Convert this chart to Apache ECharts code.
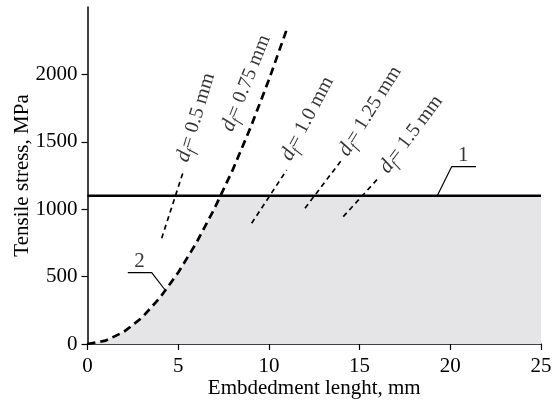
<!DOCTYPE html>
<html>
<head>
<meta charset="utf-8">
<script src="https://cdn.jsdelivr.net/npm/echarts@6/dist/echarts.min.js"></script>
<style>
html,body{margin:0;padding:0;background:#fff;}
#chart{width:553px;height:401px;}
</style>
</head>
<body>
<div id="chart"></div>
<script>
// ---- data ----
var xTicks = [0, 5, 10, 15, 20, 25];
var yTicks = [0, 500, 1000, 1500, 2000];
var limitStress = [[0, 1100], [25, 1100]];                 // line 1
var curve075 = [[0,0],[1,25],[2,90],[3,195],[4,345],[5,530],[6,750],[7,1005],[8,1290],[9,1610],[10,1960],[11,2340]]; // line 2
var shadeBoundary = [[0,0],[1,25],[2,90],[3,195],[4,345],[5,530],[6,750],[7,1005],[7.3,1100],[25,1100]];
var seg05  = [[4.09, 785], [5.28, 1279]];
var seg10  = [[9.05, 896], [10.98, 1291]];
var seg125 = [[11.99, 1007], [14.01, 1365]];
var seg15  = [[14.10, 945], [16.03, 1230]];
var leader1 = [[19.28, 1100], [20.08, 1316], [21.42, 1316]];
var leader2 = [[2.22, 530], [3.54, 530], [4.31, 395]];
var labelNames = ['0.5', '0.75', '1.0', '1.25', '1.5'];
var labelPos = [[5.98, 1680], [8.75, 1935], [12.12, 1672], [15.58, 1728], [17.84, 1555]];
var labelAngle = [73, 68, 62, 58, 53];
var markerText = ['1', '2'];
var markerPos = [[20.72, 1402], [2.86, 612]];

var FONT = 'Liberation Serif';
var chart = echarts.init(document.getElementById('chart'), null, {renderer: 'canvas'});

function lineSeries(data, width, type, z) {
  return {type: 'line', data: data, symbol: 'none', silent: true, z: z || 3,
    lineStyle: {color: '#000', width: width, type: type}};
}

var series = [
  {type: 'line', data: shadeBoundary, symbol: 'none', silent: true, z: 1,
   lineStyle: {width: 0, opacity: 0}, areaStyle: {color: '#e5e5e7', opacity: 1}},
  lineSeries(limitStress, 2.6, 'solid', 4),
  lineSeries(curve075, 2.7, [8, 5], 4),
  lineSeries(seg05, 1.7, [5, 4]),
  lineSeries(seg10, 1.7, [5, 4]),
  lineSeries(seg125, 1.7, [5, 4]),
  lineSeries(seg15, 1.7, [5, 4]),
  lineSeries(leader1, 1.2, 'solid'),
  lineSeries(leader2, 1.2, 'solid')
];

labelNames.forEach(function (n, i) {
  series.push({
    type: 'scatter', symbolSize: 0, silent: true, z: 5,
    data: [labelPos[i]],
    label: {
      show: true, position: 'inside', rotate: labelAngle[i],
      align: 'center', verticalAlign: 'middle',
      formatter: '{i|d}{s|f}{t|= ' + n + ' mm}',
      rich: {
        i: {fontFamily: FONT, fontStyle: 'italic', fontSize: 21, color: '#000', lineHeight: 26},
        s: {fontFamily: FONT, fontStyle: 'italic', fontSize: 14, color: '#000', lineHeight: 12, verticalAlign: 'bottom'},
        t: {fontFamily: FONT, fontSize: 20, color: '#000', lineHeight: 26}
      }
    }
  });
});
markerText.forEach(function (m, i) {
  series.push({
    type: 'scatter', symbolSize: 0, silent: true, z: 5,
    data: [markerPos[i]],
    label: {show: true, position: 'inside', formatter: m,
      fontFamily: FONT, fontSize: 21, color: '#000'}
  });
});

chart.setOption({
  animation: false,
  backgroundColor: '#fff',
  grid: {left: 87.5, right: 12, top: 7, bottom: 57, containLabel: false, outerBoundsMode: 'none'},
  xAxis: {
    type: 'value', min: 0, max: 25, interval: 5,
    name: 'Embdedment lenght, mm', nameLocation: 'middle', nameGap: 34, nameMoveOverlap: false,
    nameTextStyle: {fontFamily: FONT, fontSize: 21, color: '#000'},
    axisLine: {show: true, lineStyle: {color: '#000', width: 1.5}},
    axisTick: {show: true, length: 6, lineStyle: {color: '#000', width: 1.2}},
    axisLabel: {fontFamily: FONT, fontSize: 21, color: '#000', margin: 12,
      formatter: function (v) { return String(v); }},
    splitLine: {show: false}
  },
  yAxis: {
    type: 'value', min: 0, max: 2500, interval: 500,
    name: 'Tensile stress, MPa', nameLocation: 'middle', nameGap: 55, nameRotate: 90, nameMoveOverlap: false,
    nameTextStyle: {fontFamily: FONT, fontSize: 21, color: '#000'},
    axisLine: {show: true, lineStyle: {color: '#000', width: 1.5}},
    axisTick: {show: true, length: 6, lineStyle: {color: '#000', width: 1.2}, customValues: yTicks},
    axisLabel: {fontFamily: FONT, fontSize: 21, color: '#000', margin: 10, customValues: yTicks,
      formatter: function (v) { return String(v); }},
    splitLine: {show: false}
  },
  series: series
});
</script>
</body>
</html>
